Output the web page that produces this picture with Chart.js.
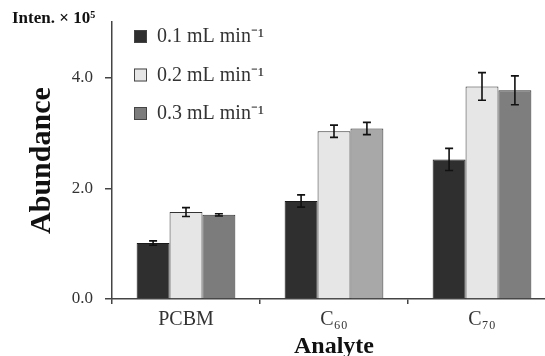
<!DOCTYPE html>
<html>
<head>
<meta charset="utf-8">
<script src="https://cdn.jsdelivr.net/npm/chart.js@4/dist/chart.umd.min.js"></script>
<style>
  html, body { margin: 0; padding: 0; background: #fff; overflow: hidden; }
  #wrap { width: 556px; height: 356px; }
</style>
</head>
<body>
<div id="wrap"><canvas id="abundanceChart"></canvas></div>
<script>
'use strict';

// data (units: x 10^5)
let analytes = ['PCBM', 'C₆₀', 'C₇₀'];
let flowLabels = ['0.1 mL min⁻¹', '0.2 mL min⁻¹', '0.3 mL min⁻¹'];
let flow01 = [1.01, 1.77, 2.52];
let flow02 = [1.57, 3.03, 3.84];
let flow03 = [1.52, 3.08, 3.77];
let err01 = [0.04, 0.11, 0.20];
let err02 = [0.08, 0.11, 0.25];
let err03 = [0.02, 0.11, 0.26];
let yTicks = [0, 2, 4];

let serif = '"Liberation Serif", "Times New Roman", serif';
let textColor = '#333';

// error bars drawn from the errors array of each dataset
let errorBars = {
    id: 'errorBars',
    afterDatasetsDraw(chart) {
        let ctx = chart.ctx;
        let yScale = chart.scales.y;
        chart.data.datasets.forEach((ds, i) => {
            let meta = chart.getDatasetMeta(i);
            meta.data.forEach((bar, j) => {
                let v = ds.data[j];
                let e = ds.errors[j];
                let top = yScale.getPixelForValue(v + e);
                let bot = yScale.getPixelForValue(v - e);
                ctx.save();
                ctx.strokeStyle = '#111';
                ctx.lineWidth = 1.6;
                ctx.beginPath();
                ctx.moveTo(bar.x, top);
                ctx.lineTo(bar.x, bot);
                ctx.moveTo(bar.x - 4, top);
                ctx.lineTo(bar.x + 4, top);
                ctx.moveTo(bar.x - 4, bot);
                ctx.lineTo(bar.x + 4, bot);
                ctx.stroke();
                ctx.restore();
            });
        });
    }
};

// legend inside the plot + the "Inten. x 10^5" unit label
let innerLegend = {
    id: 'innerLegend',
    afterDraw(chart) {
        let ctx = chart.ctx;
        ctx.save();
        ctx.font = 'bold 17px ' + serif;
        ctx.fillStyle = '#111';
        ctx.textBaseline = 'middle';
        ctx.fillText('Inten. × 10⁵', 12, 19);

        ctx.font = '20px ' + serif;
        chart.data.datasets.forEach((ds, i) => {
            let yMid = 36 + i * 38.5;
            let sw = Array.isArray(ds.backgroundColor) ? ds.backgroundColor[0] : ds.backgroundColor;
            ctx.fillStyle = sw;
            ctx.fillRect(134, yMid - 6, 13, 13);
            ctx.strokeStyle = '#444';
            ctx.lineWidth = 1;
            ctx.strokeRect(134.5, yMid - 5.5, 12, 12);
            ctx.fillStyle = textColor;
            ctx.fillText(ds.label, 157, yMid + 1);
        });
        ctx.restore();
    }
};

let ctx = document.getElementById('abundanceChart').getContext('2d');
new Chart(ctx, {
    type: 'bar',
    data: {
        labels: analytes,
        datasets: [
            {
                label: flowLabels[0],
                data: flow01,
                errors: err01,
                backgroundColor: '#2f2f2f',
                borderColor: '#1a1a1a',
                borderWidth: 1
            },
            {
                label: flowLabels[1],
                data: flow02,
                errors: err02,
                backgroundColor: '#e6e6e6',
                borderColor: '#333',
                borderWidth: 1
            },
            {
                label: flowLabels[2],
                data: flow03,
                errors: err03,
                backgroundColor: ['#7c7c7c', '#a8a8a8', '#7e7e7e'],
                borderColor: '#333',
                borderWidth: 1
            }
        ]
    },
    options: {
        responsive: true,
        maintainAspectRatio: false,
        animation: false,
        layout: { padding: { top: 14, right: 0, left: 0, bottom: 0 } },
        plugins: {
            legend: { display: false },
            tooltip: { enabled: false }
        },
        datasets: {
            bar: { categoryPercentage: 0.667, barPercentage: 1.0 }
        },
        scales: {
            x: {
                grid: {
                    offset: true,
                    drawOnChartArea: false,
                    drawTicks: true,
                    tickLength: 5,
                    color: '#444',
                    lineWidth: 1.5
                },
                border: { color: '#444', width: 1.5 },
                ticks: {
                    color: textColor,
                    font: { family: serif, size: 20 },
                    padding: 4
                },
                title: {
                    display: true,
                    text: 'Analyte',
                    color: '#111',
                    font: { family: serif, size: 24, weight: 'bold', lineHeight: 0.8 },
                    padding: { top: 0, bottom: 0 }
                },
                afterFit(scale) { scale.height = 57; }
            },
            y: {
                min: 0,
                max: 5,
                afterBuildTicks(scale) {
                    scale.ticks = yTicks.map(v => ({ value: v }));
                },
                grid: {
                    drawOnChartArea: false,
                    drawTicks: true,
                    tickLength: 7,
                    color: '#444',
                    lineWidth: 1.5
                },
                border: { color: '#444', width: 1.5 },
                ticks: {
                    color: textColor,
                    font: { family: serif, size: 17 },
                    padding: 12,
                    callback: v => v.toFixed(1)
                },
                title: {
                    display: true,
                    text: 'Abundance',
                    color: '#111',
                    font: { family: serif, size: 30, weight: 'bold' },
                    padding: { top: 24, bottom: 0 }
                },
                afterFit(scale) { scale.width = 112; }
            }
        }
    },
    plugins: [errorBars, innerLegend]
});
</script>
</body>
</html>
